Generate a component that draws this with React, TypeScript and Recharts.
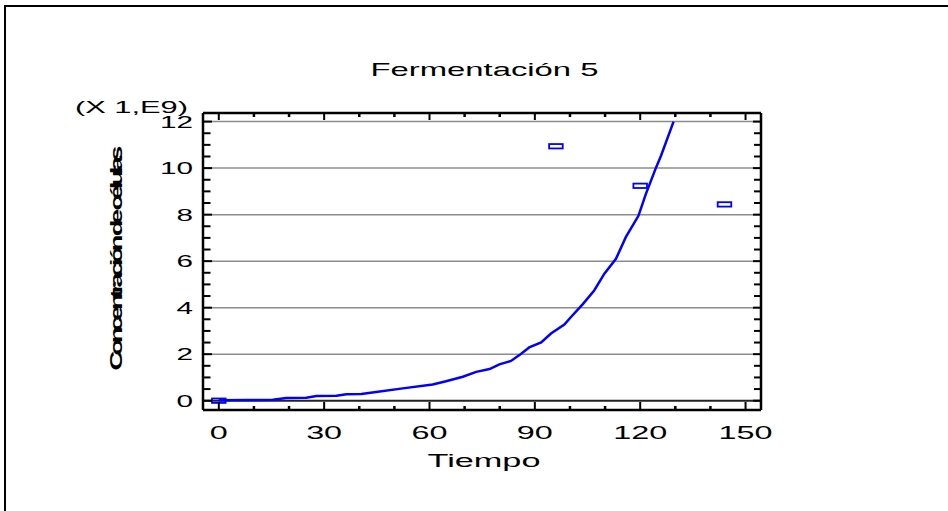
import React from "react";
import { ComposedChart, Line, Scatter, XAxis, YAxis, ReferenceLine } from "recharts";

const FONT = '"Liberation Sans", Arial, Helvetica, sans-serif';

// fitted curve (time in hours, cells x 1E9)
const curveTime = [0, 8, 15.4, 19.2, 24.9, 27.8, 33.5, 36.3, 40.6, 44.8, 52.4, 60.9, 64.7, 69.5, 73.3, 77.1, 79.9, 83.2, 85.6, 88.4, 91.8, 94.6, 98.4, 100.3, 103.6, 106.9, 109.8, 113.1, 115.9, 119.5, 121.6, 124.5, 125.9, 129.5];
const curveCells = [0.02, 0.03, 0.04, 0.12, 0.13, 0.2, 0.21, 0.28, 0.29, 0.37, 0.53, 0.7, 0.84, 1.03, 1.24, 1.36, 1.56, 1.71, 1.96, 2.29, 2.51, 2.89, 3.27, 3.6, 4.14, 4.74, 5.46, 6.1, 7.03, 7.95, 8.88, 10.02, 10.52, 12.0];

// observed points
const obsTime = [0, 96, 120, 144];
const obsCells = [0.0, 10.94, 9.24, 8.44];

const xTicks = [0, 10, 20, 30, 40, 50, 60, 70, 80, 90, 100, 110, 120, 130, 140, 150];
const xLabels = [0, 30, 60, 90, 120, 150];
const yTicks = [0, 0.5, 1, 1.5, 2, 2.5, 3, 3.5, 4, 4.5, 5, 5.5, 6, 6.5, 7, 7.5, 8, 8.5, 9, 9.5, 10, 10.5, 11, 11.5, 12];
const yLabels = [0, 2, 4, 6, 8, 10, 12];

const curveData = curveTime.map((t, i) => ({ t, v: curveCells[i] }));
const obsData = obsTime.map((t, i) => ({ t, v: obsCells[i] }));

const xDomain = [-4.5, 154.4];
const yDomain = [-0.4, 12.37];

const axisLine = { stroke: "#000", strokeWidth: 2.5 };

function BottomTick({ x, y, payload }: any) {
    const major = xLabels.includes(payload.value);
    const s = String(payload.value);
    return (
        <g>
            <line x1={x} x2={x} y1={y} y2={y - (major ? 8 : 4)} stroke="#000" strokeWidth={major ? 2 : 2.5} />
            {major && (
                <text x={x} y={y + 29} textAnchor="middle" fontSize={18} fontFamily={FONT} fill="#000"
                    textLength={18 * s.length} lengthAdjust="spacingAndGlyphs">{s}</text>
            )}
        </g>
    );
}

function TopTick({ x, y, payload }: any) {
    const major = xLabels.includes(payload.value);
    return <line x1={x} x2={x} y1={y} y2={y + (major ? 7 : 4)} stroke="#000" strokeWidth={major ? 2 : 2.5} />;
}

function LeftTick({ x, y, payload }: any) {
    const major = yLabels.includes(payload.value);
    const s = String(payload.value);
    return (
        <g>
            <line x1={x} x2={x + (major ? 9 : 7.5)} y1={y} y2={y} stroke="#000" strokeWidth={2} />
            {major && (
                <text x={x - 10} y={y + 6} textAnchor="end" fontSize={16.5} fontFamily={FONT} fill="#000"
                    textLength={16.5 * s.length} lengthAdjust="spacingAndGlyphs">{s}</text>
            )}
        </g>
    );
}

function RightTick({ x, y, payload }: any) {
    const major = yLabels.includes(payload.value);
    return <line x1={x} x2={x - (major ? 8 : 7)} y1={y} y2={y} stroke="#000" strokeWidth={2} />;
}

function Marker({ cx, cy }: any) {
    return <rect x={cx - 6.8} y={cy - 2.2} width={13.6} height={4.4} fill="none" stroke="#0000ff" strokeWidth={1.8} />;
}

export default function App() {
    return (
        <div style={{ position: "absolute", left: 0, top: 0, width: 948, height: 511, overflow: "hidden", background: "#fff" }}>
            <div style={{ position: "absolute", left: 4, top: 5, width: 1000, height: 1000, border: "2px solid #000" }} />
            <div style={{ position: "absolute", left: 0, top: 0 }}>
                <ComposedChart width={948} height={511} margin={{ top: 112, right: 186, bottom: 41, left: 143 }}>
                    <XAxis
                        xAxisId="b" dataKey="t" type="number" domain={xDomain} allowDataOverflow
                        ticks={xTicks} interval={0} tickSize={0} tickMargin={0} height={60}
                        axisLine={axisLine} tickLine={false} tick={BottomTick}
                        label={{
                            content: (p: any) => (
                                <text x={p.viewBox.x + p.viewBox.width / 2 + 2} y={p.viewBox.y + 57} textAnchor="middle"
                                    fontSize={18} fontFamily={FONT} fill="#000" textLength={113} lengthAdjust="spacingAndGlyphs">Tiempo</text>
                            ),
                        }}
                    />
                    <XAxis
                        xAxisId="t" orientation="top" dataKey="t" type="number" domain={xDomain} allowDataOverflow
                        ticks={xTicks} interval={0} tickSize={0} tickMargin={0} height={1}
                        axisLine={axisLine} tickLine={false} tick={TopTick}
                        label={{
                            content: (p: any) => (
                                <text x={p.viewBox.x + p.viewBox.width / 2 + 2.5} y={p.viewBox.y - 36} textAnchor="middle"
                                    fontSize={19} fontFamily={FONT} fill="#000" textLength={228} lengthAdjust="spacingAndGlyphs">Fermentación 5</text>
                            ),
                        }}
                    />
                    <YAxis
                        yAxisId="l" dataKey="v" type="number" domain={yDomain} allowDataOverflow
                        ticks={yTicks} interval={0} tickSize={0} tickMargin={0} width={60}
                        axisLine={axisLine} tickLine={false} tick={LeftTick}
                        label={{
                            content: (p: any) => {
                                const vb = p.viewBox;
                                const cx = vb.x - 21;
                                const cy = vb.y + vb.height / 2 - 3.5;
                                return (
                                    <g>
                                        <text x={vb.x - 68} y={vb.y} fontSize={17} fontFamily={FONT} fill="#000"
                                            textLength={113} lengthAdjust="spacingAndGlyphs">(X 1,E9)</text>
                                        <text transform={`translate(${cx},${cy}) rotate(-90) scale(1.7,1)`} x={0} y={0}
                                            textAnchor="middle" fontSize={16} fontWeight="bold" fontFamily={FONT} fill="#000"
                                            textLength={225 / 1.7} lengthAdjust="spacing">Concentración de células</text>
                                    </g>
                                );
                            },
                        }}
                    />
                    <YAxis
                        yAxisId="r" orientation="right" dataKey="v" type="number" domain={yDomain} allowDataOverflow
                        ticks={yTicks} interval={0} tickSize={0} tickMargin={0} width={1}
                        axisLine={axisLine} tickLine={false} tick={RightTick}
                    />
                    {yLabels.map((v) => (
                        <ReferenceLine key={v} xAxisId="b" yAxisId="l" y={v}
                            stroke={v === 0 ? "#222" : "#8c8c8c"} strokeWidth={v === 0 ? 2 : 1.5} />
                    ))}
                    {/* invisible copy so the top and right axes get drawn */}
                    <Line
                        xAxisId="t" yAxisId="r" data={curveData} dataKey="v" type="linear"
                        stroke="none" strokeWidth={0} dot={false} activeDot={false} legendType="none" isAnimationActive={false}
                    />
                    <Line
                        xAxisId="b" yAxisId="l" data={curveData} dataKey="v" type="linear"
                        stroke="#0000ff" strokeWidth={2.5} dot={false} activeDot={false} isAnimationActive={false}
                    />
                    <Scatter
                        xAxisId="b" yAxisId="l" data={obsData} dataKey="v" shape={Marker} isAnimationActive={false}
                    />
                </ComposedChart>
            </div>
        </div>
    );
}
